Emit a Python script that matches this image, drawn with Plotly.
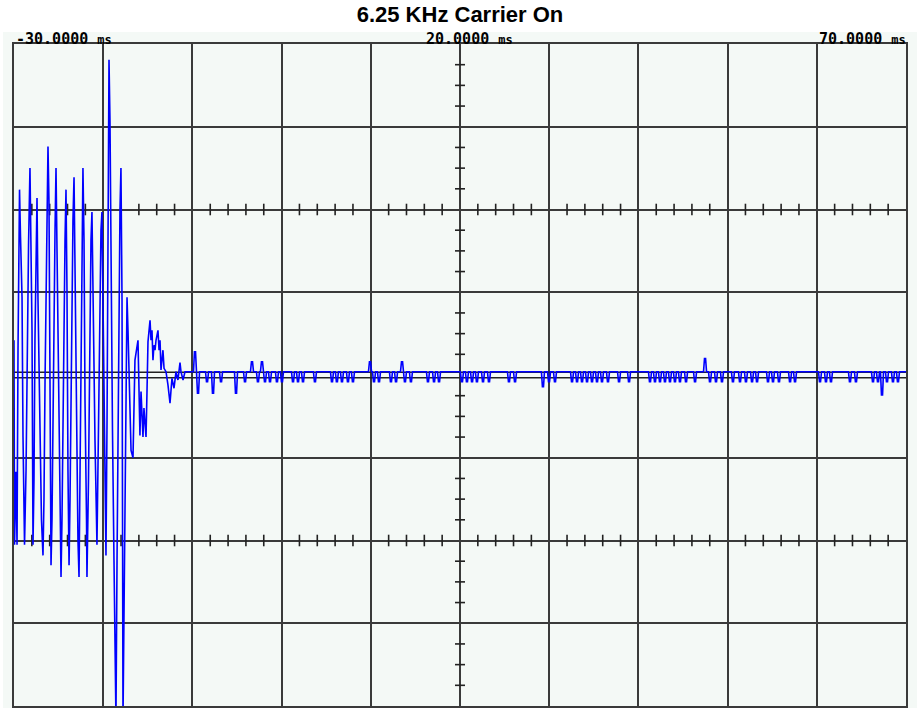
import plotly.graph_objects as go

# ---------------- data ----------------
title_text = "6.25 KHz Carrier On"
time_labels = ["-30.0000", "20.0000", "70.0000"]
time_unit = "ms"
label_at_ms = [-30, 16, 60]

x_range = [-30, 70]          # ms
y_range = [-4, 4]            # divisions
x_grid = [-20, -10, 0, 10, 20, 30, 40, 50, 60]
y_grid = [-3, -2, -1, 1, 2, 3]

# burst + decay (time in ms, amplitude in divisions)
burst_t = [-30.00, -29.94, -29.78, -29.66, -29.55, -29.38, -29.27, -29.10, -28.99, -28.82,
           -28.65, -28.54, -28.37, -28.21, -28.09, -27.98, -27.87, -27.76, -27.65, -27.53,
           -27.42, -27.31, -27.09, -26.92, -26.75, -26.64, -26.52, -26.36, -26.19, -26.08,
           -25.96, -25.85, -25.74, -25.57, -25.40, -25.29, -25.18, -25.01, -24.84, -24.73,
           -24.62, -24.45, -24.28, -24.17, -24.06, -23.95, -23.83, -23.72, -23.55, -23.39,
           -23.27, -23.16, -22.99, -22.83, -22.71, -22.60, -22.43, -22.27, -22.15, -22.04,
           -21.87, -21.82, -21.65, -21.48, -21.37, -21.26, -21.14, -20.92, -20.75, -20.70,
           -20.53, -20.36, -20.25, -20.14, -20.02, -19.86, -19.69, -19.57, -19.46, -19.35,
           -19.24, -19.13, -18.96, -18.79, -18.68, -18.57, -18.45, -18.29, -18.12, -18.01,
           -17.89, -17.78, -17.67, -17.50, -17.33, -17.22, -17.11, -17.00, -16.88, -16.66,
           -16.55, -16.44, -16.10, -15.99, -15.88, -15.76, -15.65, -15.54, -15.43, -15.20,
           -15.09, -14.98, -14.75, -14.64, -14.53, -14.42, -14.31, -14.19, -14.08, -13.86,
           -13.74, -13.63, -13.52, -13.41, -13.30, -13.18, -12.96, -12.74, -12.51, -12.29,
           -12.06, -11.84, -11.62, -11.39, -11.28, -11.05, -10.83, -10.49, -10.16, -9.93]
burst_v = [0.42, -2.05, -1.17, -2.05, 0.30, 2.24, 1.67, 0.94, -0.75, -2.05,
           -1.15, 0.18, 1.57, 2.50, 1.75, 0.54, -2.05, -1.27, 0.42, 1.39,
           2.14, 0.91, -0.54, -1.75, -2.18, -1.51, -0.06, 1.39, 2.76, 2.11,
           -0.54, -2.30, -1.75, 0.54, 1.75, 2.50, 1.51, -0.30, -1.75, -2.44,
           -1.75, 0.18, 1.63, 2.24, 1.03, -1.15, -2.30, -1.51, 0.30, 1.87,
           2.39, 1.15, -0.54, -1.99, -2.44, -1.15, 0.91, 2.50, 1.63, -0.30,
           -1.75, -2.44, -1.27, 0.66, 1.63, 1.97, 0.91, -0.79, -1.75, -2.05,
           -0.66, 0.91, 1.75, 1.97, 1.03, -0.54, -2.18, -0.54, 1.51, 3.81,
           3.08, 1.39, -0.66, -2.24, -3.20, -4.17, -2.24, -0.06, 1.99, 2.50,
           0.91, -4.17, -2.72, -0.91, 0.94, 0.54, -0.06, -0.54, -0.91, -1.00,
           -0.30, 0.18, 0.42, -0.30, -0.73, -0.20, -0.54, -0.75, -0.40, -0.75,
           -0.20, 0.40, 0.66, 0.42, 0.54, 0.18, 0.36, 0.30, 0.42, 0.54,
           0.30, 0.42, 0.06, 0.18, 0.30, 0.08, 0.04, -0.12, -0.34, -0.04,
           -0.16, 0.04, -0.06, 0.15, 0.04, -0.06, 0.04, 0.04, 0.04, 0.04]

# residual noise: baseline level and glitch events (time ms, level div)
noise_base = 0.04
noise_t = [-9.71, -9.37, -8.36, -7.69, -6.79, -5.11, -4.10, -3.32, -2.65, -2.20,
           -1.86, -1.30, -0.52, 0.04, 1.28, 1.84, 2.40, 3.74, 5.65, 6.20,
           6.77, 7.44, 8.00, 9.91, 10.36, 10.92, 12.26, 12.83, 13.50, 13.83,
           14.50, 16.41, 17.09, 17.65, 20.22, 20.78, 21.35, 21.90, 22.58, 23.25,
           25.49, 26.17, 29.30, 29.98, 30.65, 32.56, 33.12, 33.68, 34.24, 34.80,
           35.36, 35.92, 36.59, 37.83, 38.95, 41.30, 41.86, 42.42, 42.98, 43.54,
           44.10, 44.66, 45.34, 46.35, 47.47, 48.03, 48.70, 49.37, 50.60, 51.39,
           52.06, 52.74, 53.30, 54.53, 55.09, 55.76, 57.00, 57.56, 60.36, 61.03,
           61.59, 63.72, 64.39, 66.30, 66.86, 67.31, 67.87, 68.54, 69.10]
noise_v = [0.28, -0.22, -0.08, -0.22, -0.08, -0.22, -0.08, 0.16, -0.08, 0.16,
           -0.08, -0.08, -0.08, -0.08, -0.08, -0.08, -0.08, -0.08, -0.08, -0.08,
           -0.08, -0.08, -0.08, 0.16, -0.08, -0.08, -0.08, -0.08, 0.16, -0.08,
           -0.08, -0.08, -0.08, -0.08, -0.08, -0.08, -0.08, -0.08, -0.08, -0.08,
           -0.08, -0.08, -0.14, -0.08, -0.08, -0.08, -0.08, -0.08, -0.08, -0.08,
           -0.08, -0.08, -0.08, -0.08, -0.08, -0.08, -0.08, -0.08, -0.08, -0.08,
           -0.08, -0.08, -0.08, -0.08, 0.20, -0.08, -0.08, -0.08, -0.08, -0.08,
           -0.08, -0.08, -0.08, -0.08, -0.08, -0.08, -0.08, -0.08, -0.08, -0.08,
           -0.08, -0.08, -0.08, -0.08, -0.08, -0.24, -0.08, -0.08, -0.08]

# ---------------- build ----------------
wave_t = list(burst_t)
wave_v = list(burst_v)
hw_out, hw_in = 0.17, 0.06
for t, v in zip(noise_t, noise_v):
    wave_t += [t - hw_out, t - hw_in, t + hw_in, t + hw_out]
    wave_v += [noise_base, v, v, noise_base]
wave_t.append(x_range[1])
wave_v.append(noise_base)

GRID = "#3a3a3a"
xc = (x_range[0] + x_range[1]) / 2

# graticule details: center double line + minor ticks
gx, gy = [], []
for off in (0.033, -0.034):
    gx += [x_range[0], x_range[1], None]
    gy += [off, off, None]
for k in range(-16, 17):
    if k % 4 == 0:
        continue
    gx += [xc - 0.56, xc + 0.56, None]
    gy += [k * 0.25, k * 0.25, None]
for yl in (-2, 2):
    for k in range(1, 50):
        if k % 5 == 0:
            continue
        xx = x_range[0] + 2 * k
        gx += [xx, xx, None]
        gy += [yl - 0.07, yl + 0.07, None]

fig = go.Figure()
fig.add_trace(go.Scatter(x=gx, y=gy, mode="lines",
                         line=dict(color="#222222", width=1.6),
                         hoverinfo="skip", showlegend=False))
fig.add_trace(go.Scatter(x=wave_t, y=wave_v, mode="lines",
                         line=dict(color="#0000FF", width=1.6),
                         showlegend=False))

BG = "#F4F9F6"
fig.add_shape(type="rect", xref="paper", yref="paper",
              x0=-0.0123, x1=1.0123, y0=-0.01, y1=1.018,
              fillcolor=BG, line=dict(width=0), layer="below")

for lab, pos in zip(time_labels, label_at_ms):
    fig.add_annotation(x=pos, xref="x", y=1.0083, yref="paper",
                       xanchor="left", yanchor="middle", showarrow=False,
                       text=f"<b>{lab}</b> <span style='font-size:12px'><b>{time_unit}</b></span>",
                       font=dict(family="DejaVu Sans Mono", size=15, color="#000000"))

fig.update_layout(
    width=920, height=708,
    margin=dict(l=14, r=14, t=44, b=2),
    paper_bgcolor="white", plot_bgcolor=BG,
    title=dict(text=f"<b>{title_text}</b>", x=0.5, xanchor="center",
               y=1 - 14.5 / 708, yanchor="middle",
               font=dict(family="Liberation Sans", size=22, color="black")),
    xaxis=dict(range=x_range, tickvals=x_grid, showticklabels=False, ticks="",
               showgrid=True, gridcolor=GRID, gridwidth=1.8, zeroline=False,
               showline=True, mirror=True, linecolor=GRID, linewidth=2, fixedrange=True),
    yaxis=dict(range=y_range, tickvals=y_grid, showticklabels=False, ticks="",
               showgrid=True, gridcolor=GRID, gridwidth=1.8, zeroline=False,
               showline=True, mirror=True, linecolor=GRID, linewidth=2, fixedrange=True),
)

fig.write_html("out.html", config={"displayModeBar": False},
               post_script="document.body.style.margin='0px';document.body.style.overflow='hidden';")
